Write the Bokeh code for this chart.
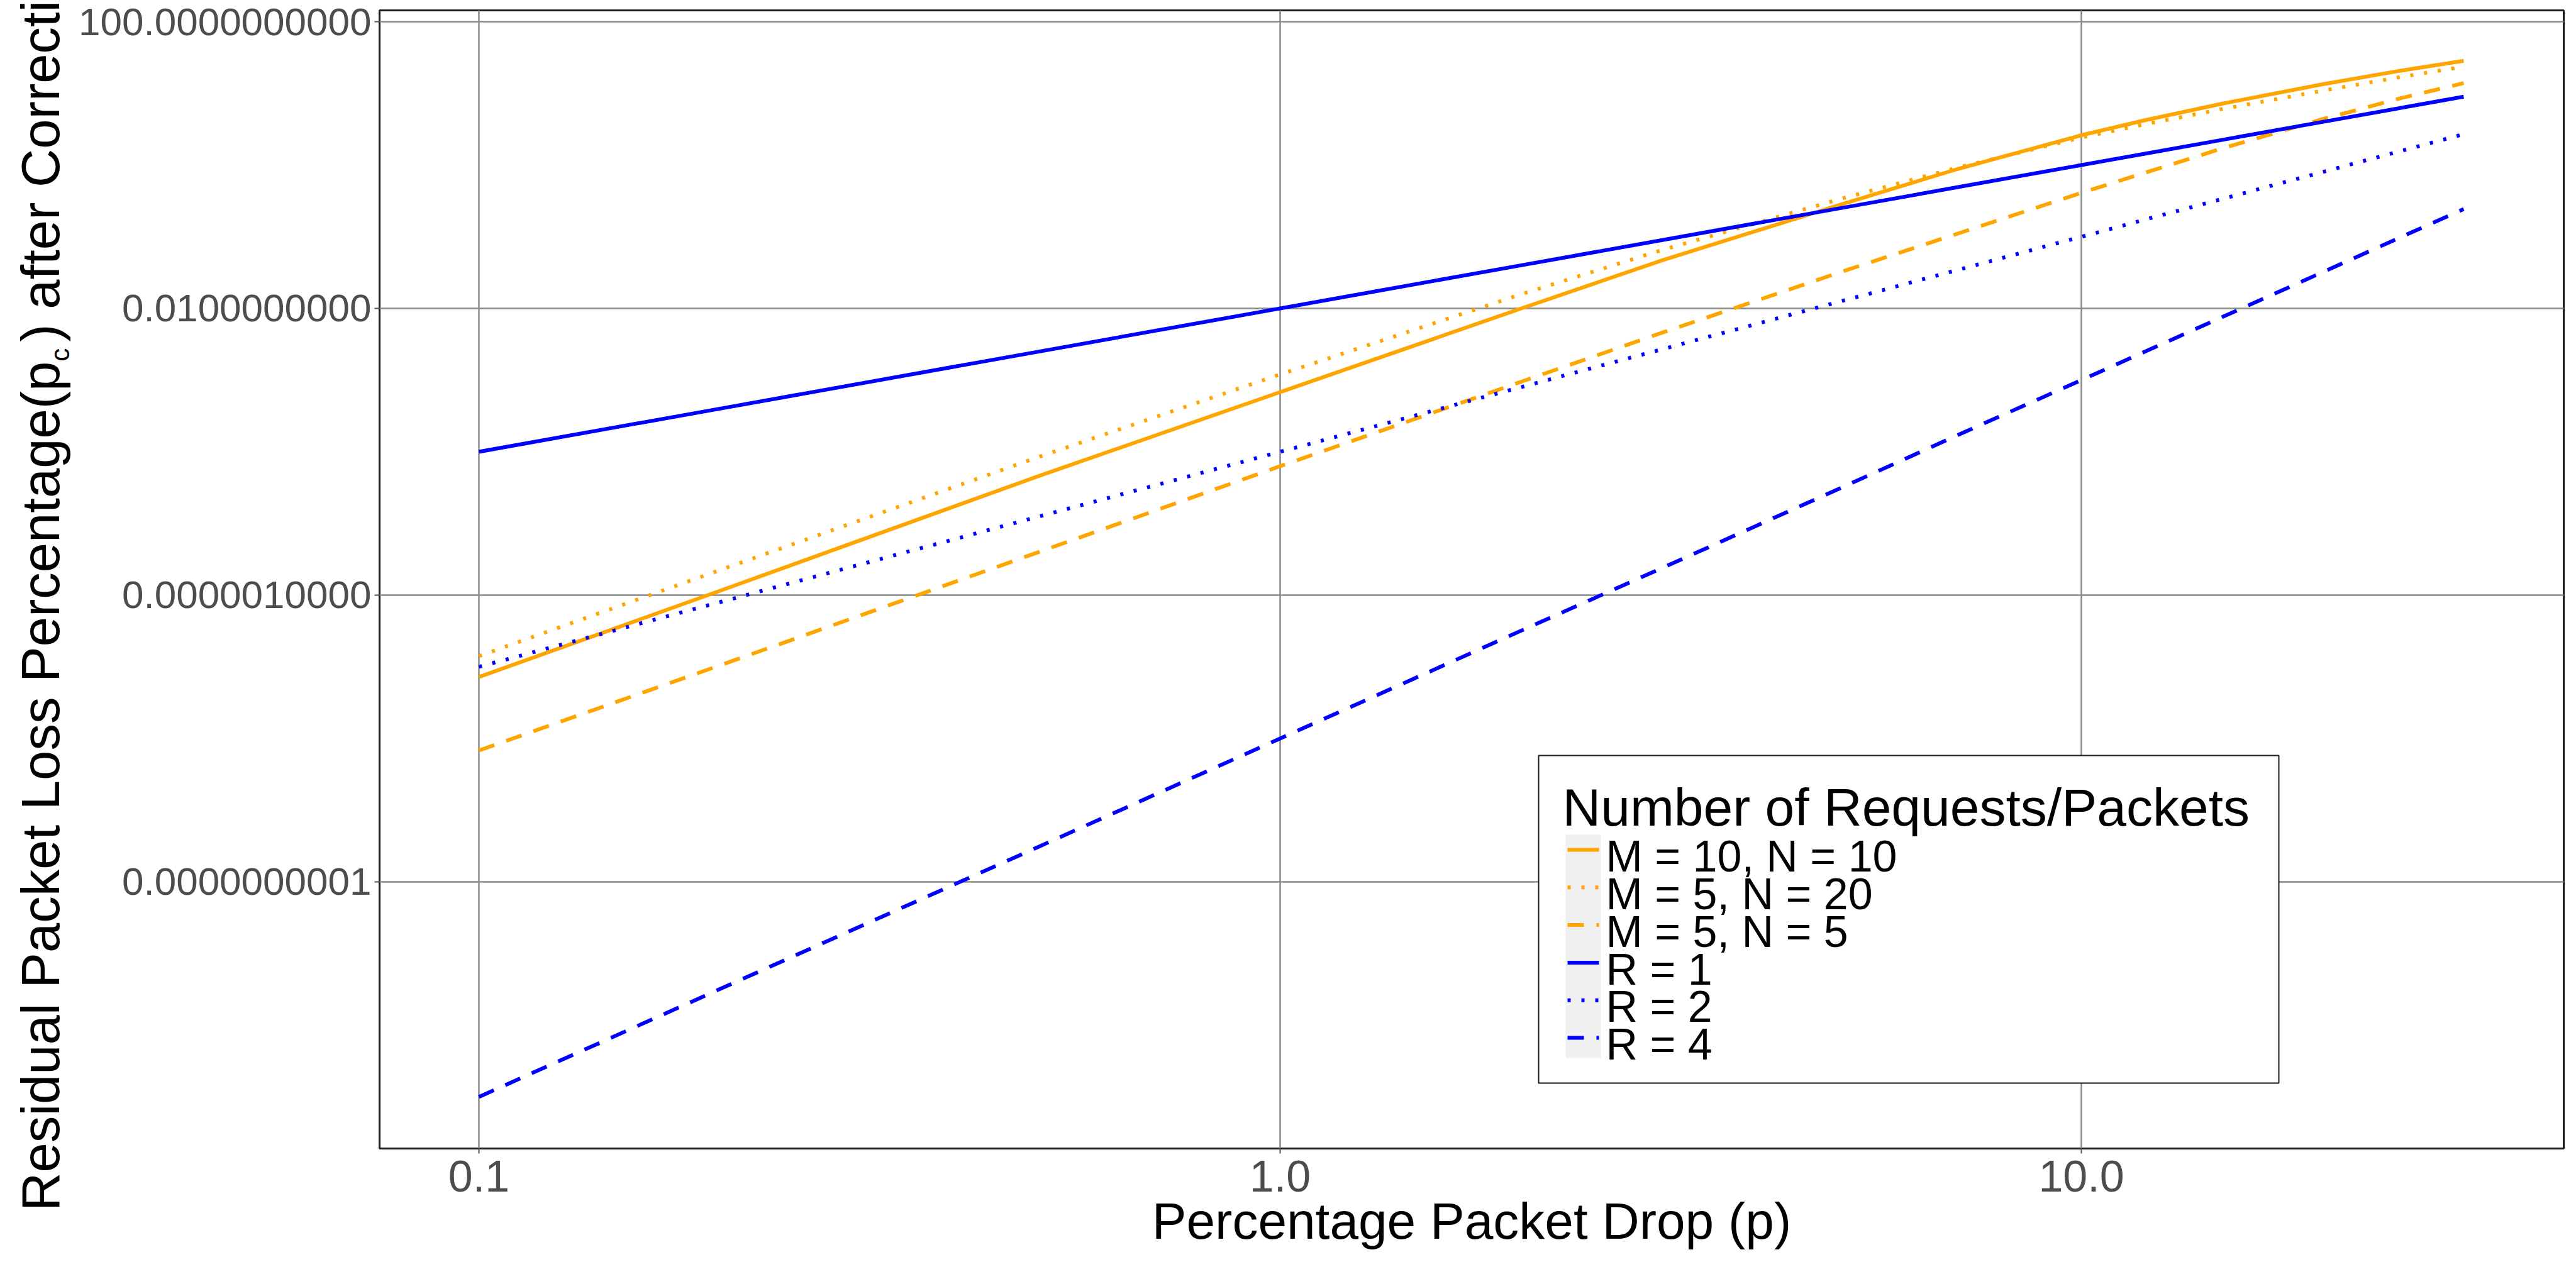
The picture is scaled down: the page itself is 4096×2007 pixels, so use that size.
from bokeh.plotting import figure
from bokeh.layouts import row
from bokeh.models import ColumnDataSource, Range1d, FixedTicker, PrintfTickFormatter, Div
from bokeh.core.properties import value
from bokeh.embed import file_html
from bokeh.resources import INLINE

# ---------------- data ----------------
drop_pct = [0.1, 0.2, 0.5, 1, 2, 3, 5, 7, 10, 12, 15, 20, 25, 30]     # Percentage Packet Drop (p)
m10_n10 = [7.2e-8, 1.15e-6, 4.6e-5, 6.8e-4, 1.0e-2, 4.7e-2, 0.28, 0.877, 2.61, 4.22, 7.21, 13.4, 20.7, 28.4]
m5_n20 = [1.41e-7, 2.24e-6, 8.5e-5, 1.2e-3, 1.58e-2, 6.55e-2, 0.336, 0.92, 2.42, 3.71, 6.05, 10.9, 16.9, 23.6]
m5_n5 = [6.8e-9, 1.05e-7, 4.0e-6, 6.3e-5, 9.5e-4, 4.6e-3, 3.2e-2, 0.11, 0.41, 0.78, 1.71, 4.37, 8.53, 13.9]
r1 = [1e-4, 4e-4, 2.5e-3, 1e-2, 4e-2, 9e-2, 0.25, 0.49, 1.0, 1.44, 2.25, 4.0, 6.25, 9.0]
r2 = [1e-7, 8e-7, 1.25e-5, 1e-4, 8e-4, 2.7e-3, 1.25e-2, 3.43e-2, 0.1, 0.173, 0.3375, 0.8, 1.5625, 2.7]
r4 = [1e-13, 3.2e-12, 3.1e-10, 1e-8, 3.2e-7, 2.4e-6, 3.1e-5, 1.7e-4, 1e-3, 2.49e-3, 7.6e-3, 3.2e-2, 9.77e-2, 0.243]

series_labels = ["M = 10, N = 10", "M = 5, N = 20", "M = 5, N = 5", "R = 1", "R = 2", "R = 4"]
series_values = [m10_n10, m5_n20, m5_n5, r1, r2, r4]
x_ticks = [0.1, 1, 10]
y_ticks = [1e-10, 1e-6, 1e-2, 1e2]
legend_title = "Number of Requests/Packets"
x_title = "Percentage Packet Drop (p)"
y_title_head = "Residual Packet Loss Percentage(p"
y_title_sub = "c"
y_title_tail = ") after Correction"

# ---------------- styles / layout ----------------
ORANGE, BLUE = "#FFA500", "#0000FF"
colors = [ORANGE, ORANGE, ORANGE, BLUE, BLUE, BLUE]
dashes = ["solid", "5 17", "26 20", "solid", "5 17", "26 20"]
FONT = "Liberation Sans"
H = 2007
YA_W = 114                         # strip holding the rotated y-axis title
W = 4096 - YA_W
FRAME_L, FRAME_R, FRAME_T, FRAME_B = 603, 4076, 16, 1826     # page pixels
FL, FR, FT, FB = FRAME_L - YA_W, 4096 - FRAME_R, FRAME_T, H - FRAME_B
LX0, LX1 = -1.124, 1.602           # log10 x-range
LY0, LY1 = -13.72, 2.158           # log10 y-range

# ---- y-axis title (HTML text, rotated, clipped at the top like the original) ----
y_title_html = (
    '<div style="position:relative;width:%dpx;height:%dpx;overflow:hidden;background:#fff;">'
    '<div style="position:absolute;left:22px;top:1926px;transform-origin:0 0;'
    'transform:rotate(-90deg);white-space:nowrap;font-family:\'%s\';font-size:85px;'
    'line-height:85px;color:#000;">%s<span style="font-size:42px;position:relative;'
    'top:16px;margin-right:10px;">%s</span>%s</div></div>'
    % (YA_W, H, FONT, y_title_head, y_title_sub, y_title_tail))
ytitle = Div(text=y_title_html, width=YA_W, height=H, margin=0)

# ---- main plot ----
p = figure(width=W, height=H, x_axis_type="log", y_axis_type="log",
           x_range=Range1d(10 ** LX0, 10 ** LX1), y_range=Range1d(10 ** LY0, 10 ** LY1),
           output_backend="svg", toolbar_location=None,
           min_border_left=FL, min_border_right=FR, min_border_top=FT, min_border_bottom=FB)
p.background_fill_color = "white"
p.border_fill_color = "white"
p.outline_line_color = "#1a1a1a"
p.outline_line_width = 3

p.xaxis.ticker = FixedTicker(ticks=x_ticks, minor_ticks=[])
p.yaxis.ticker = FixedTicker(ticks=y_ticks, minor_ticks=[])
p.xaxis.formatter = PrintfTickFormatter(format="%.1f")
p.yaxis.formatter = PrintfTickFormatter(format="%.10f")
for ax in (p.xaxis, p.yaxis):
    ax.axis_line_color = None
    ax.major_tick_line_color = "#555555"
    ax.major_tick_line_width = 2
    ax.major_tick_out = 8
    ax.major_tick_in = 0
    ax.minor_tick_line_color = None
    ax.major_label_text_font = FONT
    ax.major_label_text_color = "#4D4D4D"
p.xaxis.major_label_text_font_size = "70px"
p.yaxis.major_label_text_font_size = "62px"
p.xaxis.major_label_standoff = 11
p.yaxis.major_label_standoff = 5
p.xaxis.axis_label = x_title
p.xaxis.axis_label_text_font = FONT
p.xaxis.axis_label_text_font_size = "82px"
p.xaxis.axis_label_text_font_style = "normal"
p.xaxis.axis_label_text_color = "black"
p.xaxis.axis_label_standoff = -2

for g in (p.xgrid, p.ygrid):
    g.grid_line_color = "#8a8a8a"
    g.grid_line_width = 2.5
    g.minor_grid_line_color = None

for vals, c, d in zip(series_values, colors, dashes):
    src = ColumnDataSource(dict(x=drop_pct, y=vals))
    p.line("x", "y", source=src, line_color=c, line_width=6, line_dash=d, line_cap="butt")

# ---- legend box (drawn inside the panel; page-pixel layout converted to axis values) ----
def ax_x(px):
    return 10 ** (LX0 + (px - FRAME_L) / (FRAME_R - FRAME_L) * (LX1 - LX0))

def ax_y(py):
    return 10 ** (LY0 + (FRAME_B - py) / (FRAME_B - FRAME_T) * (LY1 - LY0))

BOX_L, BOX_R, BOX_T, BOX_B = 2446, 3623, 1201, 1722
KEY_L, KEY_R, KEY_T, KEY_B = 2489, 2545, 1327, 1682
ROW_H, KEY_Y0, LAB_Y0, LAB_X = 59.8, 1351, 1382.6, 2553
TITLE_X, TITLE_Y = 2484, 1309
SHIFT_TITLE, SHIFT_LAB = 26, 21      # compensation for the renderer's baseline placement

p.quad(left=[ax_x(BOX_L)], right=[ax_x(BOX_R)], top=[ax_y(BOX_T)], bottom=[ax_y(BOX_B)],
       fill_color="white", line_color="#1a1a1a", line_width=2)
p.quad(left=[ax_x(KEY_L)], right=[ax_x(KEY_R)], top=[ax_y(KEY_T)], bottom=[ax_y(KEY_B)],
       fill_color="#F0F0F0", line_color=None)
for i, (c, d) in enumerate(zip(colors, dashes)):
    yk = ax_y(KEY_Y0 + ROW_H * i)
    p.line([ax_x(KEY_L + 3), ax_x(KEY_R - 3)], [yk, yk], line_color=c, line_width=6,
           line_dash=d, line_cap="butt")
p.text(x=[ax_x(TITLE_X)], y=[ax_y(TITLE_Y - SHIFT_TITLE)], text=[legend_title],
       text_font=value(FONT), text_font_size=value("84px"), text_color="black",
       text_align="left", text_baseline="alphabetic")
p.text(x=[ax_x(LAB_X)] * len(series_labels),
       y=[ax_y(LAB_Y0 + ROW_H * i - SHIFT_LAB) for i in range(len(series_labels))],
       text=series_labels, text_font=value(FONT), text_font_size=value("70px"),
       text_color="black", text_align="left", text_baseline="alphabetic")

layout = row(ytitle, p, spacing=0)
open("out.html", "w").write(file_html(layout, INLINE))
